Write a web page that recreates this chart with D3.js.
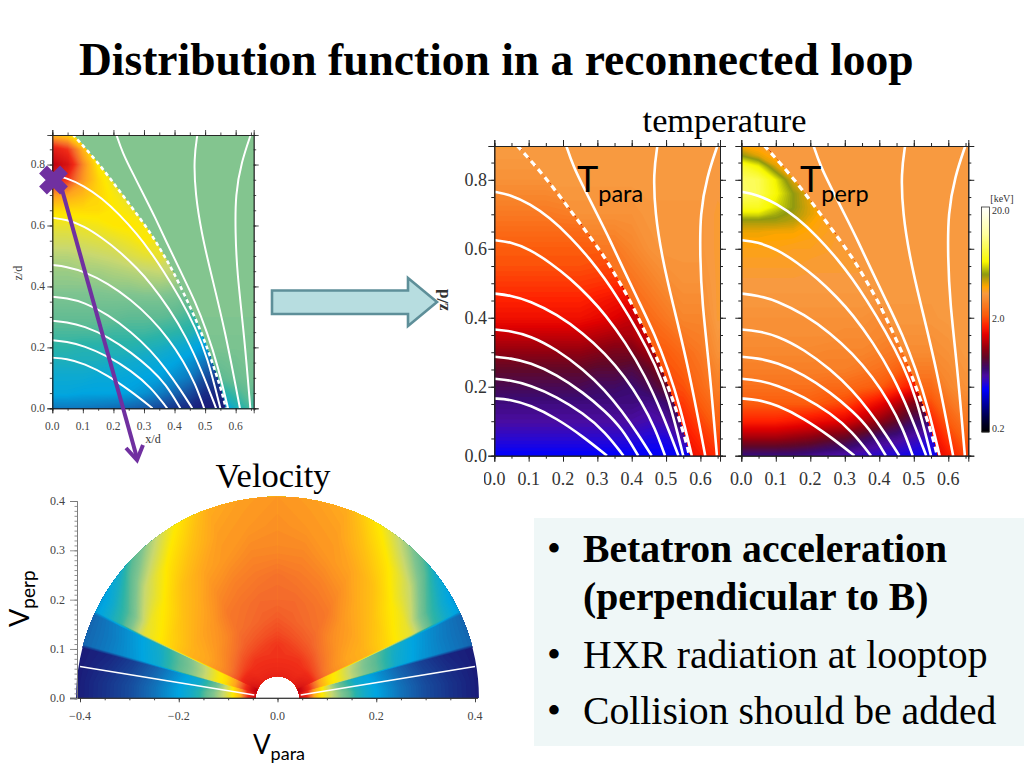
<!DOCTYPE html>
<html><head><meta charset="utf-8"><title>Distribution function in a reconnected loop</title>
<script src="https://cdn.jsdelivr.net/npm/d3@7"></script>
<style>
html,body{margin:0;padding:0;background:#fff;overflow:hidden}
text{font-family:"Liberation Serif",serif}
.sans{font-family:Lato,"Open Sans",sans-serif}
</style></head><body><svg id="c" width="1024" height="768"></svg>
<script>
// ---------- DATA ----------
const titleText = "Distribution function in a reconnected loop";
const bullets = [["Betatron acceleration", true], ["(perpendicular to B)", true], ["HXR radiation at looptop", false], ["Collision should be added", false]];
const xTicks = [0, .1, .2, .3, .4, .5, .6];
const zTicks = [0, .2, .4, .6, .8];
const vParaTicks = [-.4, -.2, 0, .2, .4];
const vPerpTicks = [0, .1, .2, .3, .4];
const colorbarTicks = [["20.0", 1], ["2.0", .5], ["0.2", 0]];

// field lines: [x/d, z/d]
const L1 = [[0,.166],[.046,.163],[.104,.147],[.182,.108],[.259,.055],[.328,0]];
const L2 = [[0,.223],[.046,.219],[.104,.205],[.182,.171],[.259,.123],[.322,.07],[.376,0]];
const L3 = [[0,.287],[.046,.283],[.104,.27],[.182,.235],[.259,.183],[.322,.13],[.371,.08],[.419,0]];
const L4 = [[0,.366],[.046,.362],[.104,.348],[.182,.308],[.259,.25],[.322,.19],[.371,.13],[.419,.062],[.458,0]];
const L5 = [[0,.47],[.046,.465],[.104,.449],[.182,.41],[.259,.355],[.322,.297],[.381,.228],[.429,.155],[.468,.08],[.497,0]];
const L6 = [[0,.625],[.046,.62],[.104,.598],[.162,.56],[.22,.515],[.279,.458],[.322,.41],[.381,.33],[.439,.233],[.488,.125],[.536,0]];
const L7 = [[0,.765],[.046,.757],[.104,.73],[.162,.69],[.22,.636],[.279,.57],[.322,.513],[.361,.455],[.419,.36],[.468,.265],[.507,.17],[.55,0]];
const separatrix = [[.066,.9],[.114,.847],[.162,.79],[.206,.732],[.245,.68],[.288,.622],[.327,.567],[.361,.509],[.395,.451],[.439,.359],[.483,.262],[.517,.171],[.555,.055],[.568,0]];
const L8 = [[.209,.9],[.23,.838],[.264,.77],[.308,.683],[.337,.625],[.371,.551],[.419,.451],[.468,.35],[.507,.248],[.541,.142],[.575,0]];
const L9 = [[.475,.9],[.463,.819],[.468,.703],[.488,.577],[.517,.451],[.565,.258],[.614,0]];
const L10 = [[.65,.9],[.619,.809],[.599,.703],[.599,.577],[.604,.451],[.628,.239],[.648,0]];
const solidLines = [L1,L2,L3,L4,L5,L6,L7,L8,L9,L10];

// colour positions along the colour bar / rainbow map
const kevStops = [0,.067,.19,.22,.25,.28,.33,.37,.43,.47,.52,.58,.615,.645,.70,.755,.88,1];
const kevColors = ["#000000","#00004a","#0000ff","#2a08d0","#4a0ca0","#3a0a70","#600828","#900010","#e00000","#ff2000","#fc5c0c","#f8862c","#f89a40","#ffa500","#8f9a10","#f8f800","#ffffa0","#ffffff"];
const rainStops = [0,.12,.22,.26,.31,.36,.42,.5,.6,.7,.78,.85,1];
const rainColors = ["#1a1a78","#1565b0","#00a5e0","#10aacd","#2bb3a8","#5fbb93","#80c490","#c8d870","#ffe800","#ffa51e","#f46a2c","#f02c18","#c00010"];

// heat grids: rows listed by z (top-down), columns x = 0 … .65
const innerZ = [.9,.85,.8,.75,.7,.65,.6,.55,.5,.45,.4,.35,.3,.25,.2,.15,.1,.05,0];
const outerZ = [.9,.8,.7,.6,.5,.4,.3,.2,.1,0];
const perpZ = [.9,.87,.84,.8,.76,.72,.7,.68,.65,.6,.55,.5,.45,.4,.35,.3,.25,.2,.15,.1,.05,0];
const leftInner = [
[.66,.62,.55,.50,.46,.44,.42,.42,.42,.42,.42,.42,.42,.42],
[.90,.84,.68,.55,.48,.44,.42,.42,.42,.42,.42,.42,.42,.42],
[1.0,.93,.74,.60,.52,.46,.42,.42,.42,.42,.42,.42,.42,.42],
[.88,.84,.72,.63,.56,.50,.45,.42,.42,.42,.42,.42,.42,.42],
[.72,.70,.67,.63,.59,.54,.49,.44,.42,.42,.42,.42,.42,.42],
[.62,.62,.62,.62,.60,.58,.54,.49,.44,.42,.42,.42,.42,.42],
[.56,.56,.57,.58,.60,.61,.59,.54,.47,.42,.42,.42,.42,.42],
[.52,.52,.53,.54,.55,.57,.60,.57,.49,.43,.42,.42,.42,.42],
[.48,.48,.49,.50,.51,.53,.55,.56,.51,.44,.42,.42,.42,.42],
[.45,.45,.46,.46,.47,.48,.49,.50,.49,.44,.41,.41,.41,.41],
[.43,.43,.43,.43,.44,.44,.45,.45,.44,.42,.40,.40,.40,.40],
[.40,.40,.40,.40,.40,.40,.40,.40,.39,.37,.35,.34,.34,.34],
[.37,.37,.37,.37,.37,.36,.36,.36,.35,.33,.30,.28,.28,.28],
[.34,.34,.34,.34,.33,.33,.33,.32,.31,.30,.26,.24,.24,.24],
[.31,.31,.30,.30,.30,.30,.29,.28,.26,.24,.20,.18,.18,.18],
[.28,.28,.28,.28,.27,.26,.25,.24,.22,.19,.14,.10,.10,.10],
[.25,.25,.25,.24,.24,.23,.22,.21,.18,.15,.08,.05,.05,.05],
[.23,.23,.22,.22,.22,.21,.19,.16,.12,.08,.03,.02,.02,.02],
[.15,.15,.15,.14,.13,.12,.10,.07,.04,.02,.00,.00,.00,.00]];
const leftOuter = [
[.42,.42,.42,.42,.42,.42,.42,.42,.42,.42,.42,.42,.42,.42],
[.42,.42,.42,.42,.42,.42,.42,.42,.42,.42,.42,.42,.42,.42],
[.42,.42,.42,.42,.42,.42,.42,.42,.42,.42,.42,.42,.42,.42],
[.42,.42,.42,.42,.42,.42,.42,.42,.42,.42,.42,.42,.42,.42],
[.42,.42,.42,.42,.42,.42,.42,.42,.42,.42,.42,.42,.42,.42],
[.42,.42,.42,.42,.42,.42,.42,.42,.42,.42,.42,.42,.42,.42],
[.42,.42,.42,.42,.42,.42,.42,.42,.42,.42,.42,.42,.42,.42],
[.41,.41,.41,.41,.41,.41,.41,.41,.41,.41,.41,.41,.41,.41],
[.36,.36,.36,.36,.36,.36,.36,.36,.36,.36,.36,.36,.38,.40],
[.20,.20,.20,.20,.20,.20,.20,.20,.20,.20,.20,.20,.28,.34]];
const paraInner = [
[.62,.62,.62,.62,.62,.62,.62,.62,.62,.62,.62,.62,.62,.62],
[.61,.61,.61,.61,.61,.61,.61,.61,.61,.61,.61,.61,.61,.61],
[.60,.60,.60,.60,.60,.60,.60,.60,.60,.60,.60,.60,.60,.60],
[.58,.58,.58,.58,.585,.59,.59,.59,.59,.59,.59,.59,.59,.59],
[.56,.56,.56,.56,.565,.57,.57,.57,.57,.57,.57,.57,.57,.57],
[.54,.54,.54,.54,.54,.54,.545,.55,.55,.55,.55,.55,.55,.55],
[.52,.52,.52,.52,.52,.52,.52,.52,.52,.52,.52,.52,.52,.52],
[.51,.51,.51,.51,.51,.51,.505,.50,.50,.50,.50,.50,.50,.50],
[.49,.49,.49,.49,.49,.49,.485,.48,.47,.47,.47,.47,.47,.47],
[.47,.47,.47,.47,.47,.47,.46,.45,.44,.45,.45,.45,.45,.45],
[.45,.45,.45,.45,.45,.45,.44,.43,.41,.43,.44,.44,.44,.44],
[.41,.41,.41,.41,.41,.41,.40,.39,.39,.42,.43,.43,.43,.43],
[.37,.37,.37,.37,.37,.37,.36,.35,.35,.38,.42,.42,.42,.42],
[.33,.33,.33,.33,.33,.33,.32,.32,.31,.33,.38,.40,.40,.40],
[.30,.30,.30,.30,.30,.30,.29,.29,.28,.30,.33,.37,.37,.37],
[.27,.27,.27,.27,.27,.27,.27,.27,.27,.26,.28,.34,.34,.34],
[.25,.25,.25,.25,.25,.25,.25,.25,.25,.24,.25,.30,.30,.30],
[.22,.22,.22,.22,.22,.22,.22,.22,.22,.21,.21,.25,.25,.25],
[.19,.19,.19,.19,.19,.19,.19,.19,.19,.19,.19,.19,.19,.19]];
const paraOuter = [
[.615,.615,.615,.615,.615,.615,.615,.615,.615,.615,.615,.615,.615,.615],
[.615,.615,.615,.615,.615,.615,.615,.615,.615,.615,.615,.615,.615,.615],
[.60,.60,.60,.60,.60,.60,.60,.60,.60,.61,.61,.61,.61,.62],
[.56,.56,.56,.56,.56,.56,.56,.56,.58,.60,.61,.61,.61,.62],
[.55,.55,.55,.55,.55,.55,.55,.55,.55,.57,.59,.60,.60,.62],
[.54,.54,.54,.54,.54,.54,.54,.54,.54,.54,.56,.58,.58,.62],
[.52,.52,.52,.52,.52,.52,.52,.52,.52,.52,.52,.54,.56,.60],
[.50,.50,.50,.50,.50,.50,.50,.50,.50,.50,.50,.51,.54,.57],
[.47,.47,.47,.47,.47,.47,.47,.47,.47,.47,.47,.47,.50,.53],
[.44,.44,.44,.44,.44,.44,.44,.44,.44,.44,.44,.44,.46,.48]];
const perpInner = [
[.64,.63,.625,.62,.62,.62,.62,.62,.62,.62,.62,.62,.62,.62],
[.70,.66,.63,.62,.62,.62,.62,.62,.62,.62,.62,.62,.62,.62],
[.79,.75,.66,.625,.62,.62,.62,.62,.62,.62,.62,.62,.62,.62],
[.83,.82,.75,.66,.625,.62,.62,.62,.62,.62,.62,.62,.62,.62],
[.84,.82,.76,.70,.65,.62,.62,.62,.62,.62,.62,.62,.62,.62],
[.78,.78,.74,.70,.66,.63,.62,.62,.62,.62,.62,.62,.62,.62],
[.74,.74,.71,.69,.66,.63,.62,.62,.62,.62,.62,.62,.62,.62],
[.69,.69,.69,.68,.65,.63,.62,.62,.62,.62,.62,.62,.62,.62],
[.655,.655,.65,.65,.64,.63,.62,.62,.62,.62,.62,.62,.62,.62],
[.635,.635,.635,.63,.63,.625,.62,.62,.62,.62,.62,.62,.62,.62],
[.625,.625,.625,.625,.62,.62,.62,.62,.62,.62,.62,.62,.62,.62],
[.615,.615,.615,.615,.615,.615,.615,.615,.615,.61,.61,.61,.61,.61],
[.61,.61,.61,.61,.61,.61,.61,.61,.605,.60,.60,.60,.60,.60],
[.60,.60,.60,.60,.60,.60,.60,.60,.59,.58,.58,.58,.58,.58],
[.595,.595,.595,.595,.595,.595,.59,.59,.585,.575,.565,.56,.56,.56],
[.585,.585,.585,.585,.585,.58,.58,.58,.57,.56,.54,.52,.52,.52],
[.57,.57,.57,.57,.57,.57,.57,.56,.55,.53,.50,.47,.47,.47],
[.55,.55,.55,.55,.55,.54,.54,.53,.52,.49,.46,.44,.44,.44],
[.52,.52,.52,.52,.52,.51,.50,.47,.44,.40,.35,.35,.35,.35],
[.47,.47,.47,.46,.45,.44,.43,.40,.37,.33,.29,.28,.28,.28],
[.38,.38,.38,.37,.36,.34,.33,.30,.27,.26,.24,.22,.22,.22],
[.27,.27,.27,.27,.26,.25,.24,.23,.22,.21,.20,.20,.20,.20]];
const perpOuter = [
[.615,.615,.615,.615,.615,.615,.615,.615,.615,.615,.615,.615,.615,.615],
[.615,.615,.615,.615,.615,.615,.615,.615,.615,.615,.615,.615,.615,.615],
[.615,.615,.615,.615,.615,.615,.615,.615,.615,.615,.615,.615,.615,.615],
[.615,.615,.615,.615,.615,.615,.615,.615,.615,.615,.615,.615,.615,.615],
[.615,.615,.615,.615,.615,.615,.615,.615,.615,.615,.615,.615,.615,.615],
[.615,.615,.615,.615,.615,.615,.615,.615,.61,.61,.61,.61,.615,.615],
[.59,.59,.59,.59,.59,.59,.59,.59,.59,.59,.59,.59,.60,.615],
[.54,.54,.54,.54,.54,.54,.54,.54,.54,.54,.54,.54,.58,.60],
[.47,.47,.47,.47,.47,.47,.47,.47,.47,.47,.47,.47,.52,.56],
[.42,.42,.42,.42,.42,.42,.42,.42,.42,.42,.42,.42,.46,.50]];

// velocity-space grid: rows = pitch angle (deg), columns = speed
const pitchAngles = [0,5,10,14.5,15.5,20,24.5,25.5,30,40,50,60,70,80,90];
const speeds = [.045,.06,.075,.09,.11,.13,.16,.2,.25,.3,.35,.41];
const velocityValues = [
[.95,.85,.68,.60,.50,.42,.30,.22,.14,.08,.04,.00],
[.95,.85,.68,.60,.50,.42,.30,.22,.14,.08,.04,.00],
[.95,.87,.70,.61,.49,.38,.27,.21,.13,.07,.03,.00],
[.95,.88,.72,.62,.48,.36,.26,.20,.12,.06,.02,.00],
[1.0,.90,.80,.70,.62,.58,.48,.38,.26,.20,.16,.12],
[1.0,.90,.80,.70,.62,.58,.48,.38,.27,.21,.16,.12],
[1.0,.90,.80,.71,.63,.59,.50,.40,.29,.22,.17,.12],
[.95,.91,.87,.81,.76,.73,.70,.68,.62,.55,.32,.20],
[.93,.90,.87,.81,.76,.73,.70,.68,.63,.56,.34,.20],
[.90,.88,.86,.82,.78,.75,.72,.70,.66,.60,.50,.28],
[.88,.86,.85,.83,.80,.77,.74,.72,.69,.66,.60,.45],
[.88,.86,.85,.84,.81,.79,.77,.76,.73,.70,.66,.60],
[.88,.86,.85,.84,.82,.80,.78,.77,.75,.72,.71,.69],
[.88,.86,.85,.84,.83,.81,.79,.78,.76,.74,.72,.71],
[.88,.86,.85,.84,.84,.82,.80,.78,.77,.74,.73,.72]];
const whileLinePara = [.047,.4];
const whileLinePerp = [.0068,.0645];

// ---------- drawing ----------
const svg = d3.select("#c");
const defs = svg.append("defs");
const kev = d3.scaleLinear().domain(kevStops).range(kevColors).clamp(true);
const rain = d3.scaleLinear().domain(rainStops).range(rainColors).clamp(true);
const levels = d3.range(0, 1.0001, .006);
let uid = 0;

function contourFill(g, rows, colour, xPos, yPos) {
  const ny = rows.length, nx = rows[0].length;
  const gen = d3.contours().size([nx, ny]).thresholds(levels);
  const proj = d3.geoTransform({ point(px, py) { this.stream.point(xPos(px - .5), yPos(py - .5)); } });
  const path = d3.geoPath(proj);
  g.selectAll("path.h").data(gen(rows.flat())).join("path").attr("class", "h")
    .attr("d", path).attr("fill", d => colour(d.value + .003));
}

function panel(o) {
  const x = d3.scaleLinear().domain([0, o.xMax]).range(o.xRange);
  const y = d3.scaleLinear().domain([0, o.zMax]).range(o.yRange);
  const g = svg.append("g");
  const id = "p" + (++uid);
  defs.append("clipPath").attr("id", id).append("rect")
    .attr("x", x(0)).attr("y", y(o.zMax)).attr("width", x(o.xMax) - x(0)).attr("height", y(0) - y(o.zMax));
  const line = d3.line().x(d => x(d[0])).y(d => y(d[1])).curve(d3.curveBasis);
  const idIn = "q" + uid;
  defs.append("clipPath").attr("id", idIn).append("path")
    .attr("d", line(separatrix) + `L${x(0)},${y(0)}L${x(0)},${y(.9)}Z`);
  const body = g.append("g").attr("clip-path", `url(#${id})`);
  body.append("rect").attr("x", x(0)).attr("y", y(o.zMax)).attr("width", x(o.xMax) - x(0)).attr("height", y(0) - y(o.zMax)).attr("fill", o.colour(o.outer[0][0]));
  const colX = d3.scaleLinear().domain([0, 13]).range([x(0), x(.65)]);
  const rowOut = d3.scaleLinear().domain(d3.range(outerZ.length)).range(outerZ.map(y));
  const rowIn = d3.scaleLinear().domain(d3.range(o.innerZ.length)).range(o.innerZ.map(y));
  contourFill(body.append("g"), o.outer, o.colour, colX, rowOut);
  contourFill(body.append("g").attr("clip-path", `url(#${idIn})`), o.inner, o.colour, colX, rowIn);
  body.selectAll("path.f").data(solidLines).join("path").attr("class", "f").attr("d", line)
    .attr("fill", "none").attr("stroke", "#fff").attr("stroke-width", o.lw);
  body.append("path").attr("d", line(separatrix)).attr("fill", "none").attr("stroke", "#fff")
    .attr("stroke-width", o.lw + .6).attr("stroke-dasharray", o.dash);
  // frame + ticks
  const minorX = d3.range(0, .66, .05), minorZ = d3.range(0, .89, .05);
  const sides = [
    [d3.axisBottom(x), 0, y(0), minorX, xTicks], [d3.axisTop(x), 0, y(o.zMax), minorX, xTicks],
    [d3.axisLeft(y), x(0), 0, minorZ, zTicks], [d3.axisRight(y), x(o.xMax), 0, minorZ, zTicks]];
  sides.forEach(([ax, tx, ty, mn, mj]) => {
    const a = g.append("g").attr("transform", `translate(${tx},${ty})`);
    a.call(ax.tickValues(mn).tickSize(o.minor).tickFormat(""));
    a.append("g").call(ax.tickValues(mj).tickSize(o.major).tickFormat(""));
    a.selectAll("path,line").attr("stroke", "#222").attr("stroke-width", o.axisW);
    a.selectAll("text").remove();
  });
  return { g, x, y };
}

// Slide title
svg.append("text").attr("x", 79).attr("y", 75).attr("font-size", 45.5).attr("font-weight", "bold").attr("fill", "#000").text(titleText);

// Left panel
const pL = panel({ xMax: .659, zMax: .897, xRange: [52.3, 253.7], yRange: [408.3, 135], colour: rain, inner: leftInner, innerZ: innerZ, outer: leftOuter, lw: 2, dash: "4 3.2", minor: 2.5, major: 5, axisW: .8 });
pL.g.append("g").selectAll("text").data(xTicks).join("text").attr("x", d => pL.x(d)).attr("y", 430).attr("text-anchor", "middle").attr("font-size", 11.5).attr("fill", "#444").text(d => d3.format(".1f")(d));
pL.g.append("g").selectAll("text").data(zTicks).join("text").attr("x", 45).attr("y", d => pL.y(d) + 3.8).attr("text-anchor", "end").attr("font-size", 11.5).attr("fill", "#444").text(d => d3.format(".1f")(d));
svg.append("text").attr("x", 153).attr("y", 443).attr("text-anchor", "middle").attr("font-size", 12).attr("fill", "#333").text("x/d");
svg.append("text").attr("transform", "translate(21.5,273) rotate(-90)").attr("text-anchor", "middle").attr("font-size", 12).attr("fill", "#333").text("z/d");

// Temperature panels
const pP = panel({ xMax: .657, zMax: .898, xRange: [494.3, 720], yRange: [455.7, 146], colour: kev, inner: paraInner, innerZ: innerZ, outer: paraOuter, lw: 2.6, dash: "6 4.6", minor: 3, major: 6, axisW: 1 });
const pQ = panel({ xMax: .658, zMax: .898, xRange: [741.3, 968.3], yRange: [455.7, 146], colour: kev, inner: perpInner, innerZ: perpZ, outer: perpOuter, lw: 2.6, dash: "6 4.6", minor: 3, major: 6, axisW: 1 });
defs.append("clipPath").attr("id", "lab").append("rect").attr("x", 484).attr("y", 460).attr("width", 540).attr("height", 40);
const xLab = svg.append("g").attr("clip-path", "url(#lab)");
[pP, pQ].forEach(p => xLab.append("g").selectAll("text").data(xTicks).join("text").attr("x", d => p.x(d)).attr("y", 485).attr("text-anchor", "middle").attr("font-size", 18).attr("fill", "#333").text(d => d3.format(".1f")(d)));
pP.g.append("g").selectAll("text").data(zTicks).join("text").attr("x", 487).attr("y", d => pP.y(d) + 6).attr("text-anchor", "end").attr("font-size", 18).attr("fill", "#333").text(d => d3.format(".1f")(d));

svg.append("text").attr("x", 724.5).attr("y", 132).attr("text-anchor", "middle").attr("font-size", 34.3).text("temperature");

function subText(x, y, main, sub, size, subSize, drop) {
  const t = svg.append("text").attr("class", "sans").attr("x", x).attr("y", y).attr("font-size", size).attr("fill", "#000");
  t.append("tspan").text(main);
  t.append("tspan").attr("dy", drop).attr("font-size", subSize).text(sub);
  return t;
}
subText(577, 192, "T", "para", 36, 23.5, 10);
subText(800, 192, "T", "perp", 36, 23.5, 10);

// Colour bar
const cbY = d3.scaleLinear().domain([0, 1]).range([432, 207]);
svg.append("g").selectAll("rect").data(d3.range(0, 1, 1 / 225)).join("rect").attr("x", 982).attr("y", d => cbY(d) - 1).attr("width", 7).attr("height", 1.4).attr("fill", d => kev(d));
svg.append("rect").attr("x", 981.5).attr("y", 207).attr("width", 8).attr("height", 225).attr("fill", "none").attr("stroke", "#333").attr("stroke-width", .8);
svg.append("g").selectAll("text").data(colorbarTicks).join("text").attr("x", 992).attr("y", d => cbY(d[1]) + (d[1] === 1 ? 7 : d[1] === 0 ? 0 : 3) + (d[1] === .5 ? -.5 : 0)).attr("font-size", 10).attr("fill", "#333").text(d => d[0]);
svg.append("text").attr("x", 1002).attr("y", 202).attr("text-anchor", "middle").attr("font-size", 10).attr("fill", "#333").text("[keV]");

svg.append("text").attr("transform", "translate(448,300) rotate(-90)").attr("text-anchor", "middle").attr("font-size", 17).attr("font-weight", "bold").attr("fill", "#333").text("z/d");

// Block arrow between the panels
svg.append("path").attr("d", "M272,290.5H408V278L437,302L408,326V314H272Z").attr("fill", "#b7dde0").attr("stroke", "#5e8f99").attr("stroke-width", 2.6);

// Purple marker + arrow (left panel annotation)
const pm = svg.append("g").attr("stroke", "#7030a0").attr("fill", "none");
pm.append("path").attr("d", "M43,169.5L64,190.5M64,169.5L43,190.5").attr("stroke-width", 11);
pm.append("path").attr("d", "M61,186L137,458").attr("stroke-width", 4);
pm.append("path").attr("d", "M126,448L137,460L143,445").attr("stroke-width", 4);

// Velocity-space plot
const vx = d3.scaleLinear().domain([-.4, .4]).range([80, 475]);
const vy = d3.scaleLinear().domain([0, .4]).range([698.3, 501]);
const unit = vx(1) - vx(0);
const rIdx = d3.scaleLinear().domain(d3.range(speeds.length)).range(speeds);
const aIdx = d3.scaleLinear().domain(d3.range(pitchAngles.length)).range(pitchAngles);
const annulus = d3.arc().innerRadius(.0445 * unit).outerRadius(.408 * unit).startAngle(-Math.PI / 2).endAngle(Math.PI / 2)();
defs.append("clipPath").attr("id", "ann").append("path").attr("transform", `translate(${vx(0)},${vy(0)})`).attr("d", annulus);
const vg = svg.append("g").attr("clip-path", "url(#ann)");
[1, -1].forEach(sign => {
  const proj = d3.geoTransform({ point(px, py) {
    const r = rIdx(px - .5), a = Math.min(90, Math.max(0, aIdx(py - .5))) * Math.PI / 180;
    this.stream.point(vx(sign * r * Math.cos(a)), vy(r * Math.sin(a)));
  } });
  const path = d3.geoPath(proj);
  vg.append("g").selectAll("path").data(d3.contours().size([speeds.length, pitchAngles.length]).thresholds(levels)(velocityValues.flat()))
    .join("path").attr("d", path).attr("fill", d => rain(d.value + .003));
  svg.append("path").datum(d3.zip(whileLinePara, whileLinePerp))
    .attr("d", d3.line().x(d => vx(sign * d[0])).y(d => vy(d[1]))).attr("stroke", "#fff").attr("stroke-width", 1.6).attr("fill", "none");
});
// velocity axes
const vxAxis = svg.append("g").attr("transform", `translate(0,${vy(0)})`);
vxAxis.call(d3.axisBottom(vx).tickValues(d3.range(-.4, .401, .05)).tickSize(2).tickFormat(""));
vxAxis.append("g").call(d3.axisBottom(vx).tickValues(vParaTicks).tickSize(4).tickFormat(""));
vxAxis.selectAll("path").attr("d", "M70,0H478");
vxAxis.selectAll("path,line").attr("stroke", "#333").attr("stroke-width", .9);
const vyAxis = svg.append("g").attr("transform", "translate(77,0)");
vyAxis.call(d3.axisLeft(vy).tickValues(d3.range(0, .4001, .01)).tickSize(2.5).tickFormat(""));
vyAxis.append("g").call(d3.axisLeft(vy).tickValues(vPerpTicks).tickSize(7).tickFormat(""));
vyAxis.selectAll("path,line").attr("stroke", "#777").attr("stroke-width", .8);
svg.append("g").selectAll("text").data(vParaTicks).join("text").attr("x", d => vx(d)).attr("y", 720).attr("text-anchor", "middle").attr("font-size", 12).attr("fill", "#444").text(d => d3.format(".1f")(d));
svg.append("g").selectAll("text").data(vPerpTicks).join("text").attr("x", 65).attr("y", d => vy(d) + 4).attr("text-anchor", "end").attr("font-size", 12).attr("fill", "#444").text(d => d3.format(".1f")(d));
svg.append("text").attr("x", 273).attr("y", 487).attr("text-anchor", "middle").attr("font-size", 34.5).text("Velocity");
subText(253, 754, "V", "para", 26, 18, 6);
subText(0, 0, "V", "perp", 27, 19, 6).attr("transform", "translate(29,627) rotate(-90)");

// Text box
svg.append("rect").attr("x", 534).attr("y", 518).attr("width", 490).attr("height", 228).attr("fill", "#eff7f7");
const bulletY = [562, 610, 668, 724];
bullets.forEach((b, i) => {
  if (i !== 1) svg.append("text").attr("x", 547).attr("y", bulletY[i]).attr("font-size", 39.7).text("•");
  svg.append("text").attr("x", 583).attr("y", bulletY[i]).attr("font-size", 39.7).attr("font-weight", b[1] ? "bold" : "normal").text(b[0]);
});
</script></body></html>
